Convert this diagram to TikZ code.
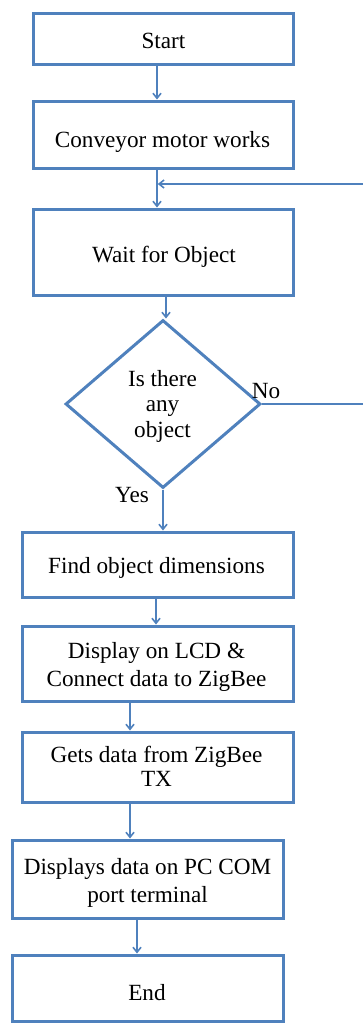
\documentclass[tikz,border=0pt]{standalone}
\usepackage{fontspec}
\setmainfont{Liberation Serif}
\usetikzlibrary{arrows.meta,shapes.geometric,calc}
\definecolor{flowblue}{HTML}{4F81BD}
\begin{document}
\begin{tikzpicture}[x=0.5pt,y=-0.5pt,
  stepbox/.style={draw=flowblue, line width=1.5pt, rectangle, inner sep=0pt},
  decbox/.style={draw=flowblue, line width=1.5pt, diamond, inner sep=0pt,
    minimum width=97.5pt, minimum height=84pt},
  txt/.style={inner sep=0pt, align=center, anchor=base, text=black,
    font=\fontsize{11.6}{#1}\selectfont},
  txt/.default=14,
  arr/.style={draw=flowblue, line width=0.8pt,
    -{Straight Barb[length=2.5pt,width=4pt]}},
  lbl/.style={inner sep=0pt, anchor=base, text=black,
    font=\fontsize{11.6}{14}\selectfont}]
\useasboundingbox (0,0) rectangle (363,1023);

% process boxes and the decision diamond
\node[stepbox, minimum width=130pt, minimum height=25.5pt] (start) at (163,38.5) {};
\node[stepbox, minimum width=130pt, minimum height=33.5pt] (conv) at (163,134.5) {};
\node[stepbox, minimum width=130pt, minimum height=43pt] (wait) at (163,252) {};
\node[decbox] (dec) at (163,404) {};
\node[stepbox, minimum width=135.5pt, minimum height=32.5pt] (find) at (157.5,564.5) {};
\node[stepbox, minimum width=135.5pt, minimum height=37.5pt] (disp) at (157.5,663.5) {};
\node[stepbox, minimum width=135.5pt, minimum height=35pt] (gets) at (157.5,767) {};
\node[stepbox, minimum width=135.5pt, minimum height=39pt] (pc) at (147.5,879) {};
\node[stepbox, minimum width=135.5pt, minimum height=33pt] (end) at (147.5,988) {};

% box texts (anchored on the baseline of their last line)
\node[txt] (startT) at (163.5,48) {Start};
\node[txt] (convT) at (162.5,147) {Conveyor motor works};
\node[txt] (waitT) at (164,262) {Wait for Object};
\node[txt=12.75] (decT) at (162.5,437) {Is there\\any\\object};
\node[txt] (findT) at (156.5,573) {Find object dimensions};
\node[txt=14] (dispT) at (156.5,686) {Display on LCD \&\\Connect data to ZigBee};
\node[txt=12] (getsT) at (156.5,786) {Gets data from ZigBee\\TX};
\node[txt=14] (pcT) at (147.5,902) {Displays data on PC COM\\port terminal};
\node[txt] (endT) at (147,1000) {End};

% branch labels
\node[lbl] (nolbl) at (266,398) {No};
\node[lbl] (yeslbl) at (132,502) {Yes};

% joint where the loop re-enters the main line
\coordinate (join) at (157,184);
\coordinate (loopA) at (372,404);
\coordinate (loopB) at (372,184);

% main flow
\draw[arr] ([xshift=-3pt]start.south) -- ([xshift=-3pt]conv.north);
\draw[arr] ([xshift=-3pt]conv.south) -- ([xshift=-3pt]wait.north);
\draw[arr] ([xshift=1.5pt]wait.south) -- ([xshift=1.5pt]dec.north);
\draw[arr] (dec.south) -- (dec.south |- find.north);
\draw[arr] ([xshift=-0.75pt]find.south) -- ([xshift=-0.75pt]disp.north);
\draw[arr] ([xshift=-13.75pt]disp.south) -- ([xshift=-13.75pt]gets.north);
\draw[arr] ([xshift=-13.75pt]gets.south) -- ([xshift=-13.75pt]gets.south |- pc.north);
\draw[arr] ([xshift=-5.25pt]pc.south) -- ([xshift=-5.25pt]end.north);

% "No" loop back to the waiting step
\begin{scope}
\clip (0,0) rectangle (363,1023);
\draw[arr] (dec.east) -- (loopA) -- (loopB) -- ([xshift=0.4pt]join);
\end{scope}
\end{tikzpicture}
\end{document}
